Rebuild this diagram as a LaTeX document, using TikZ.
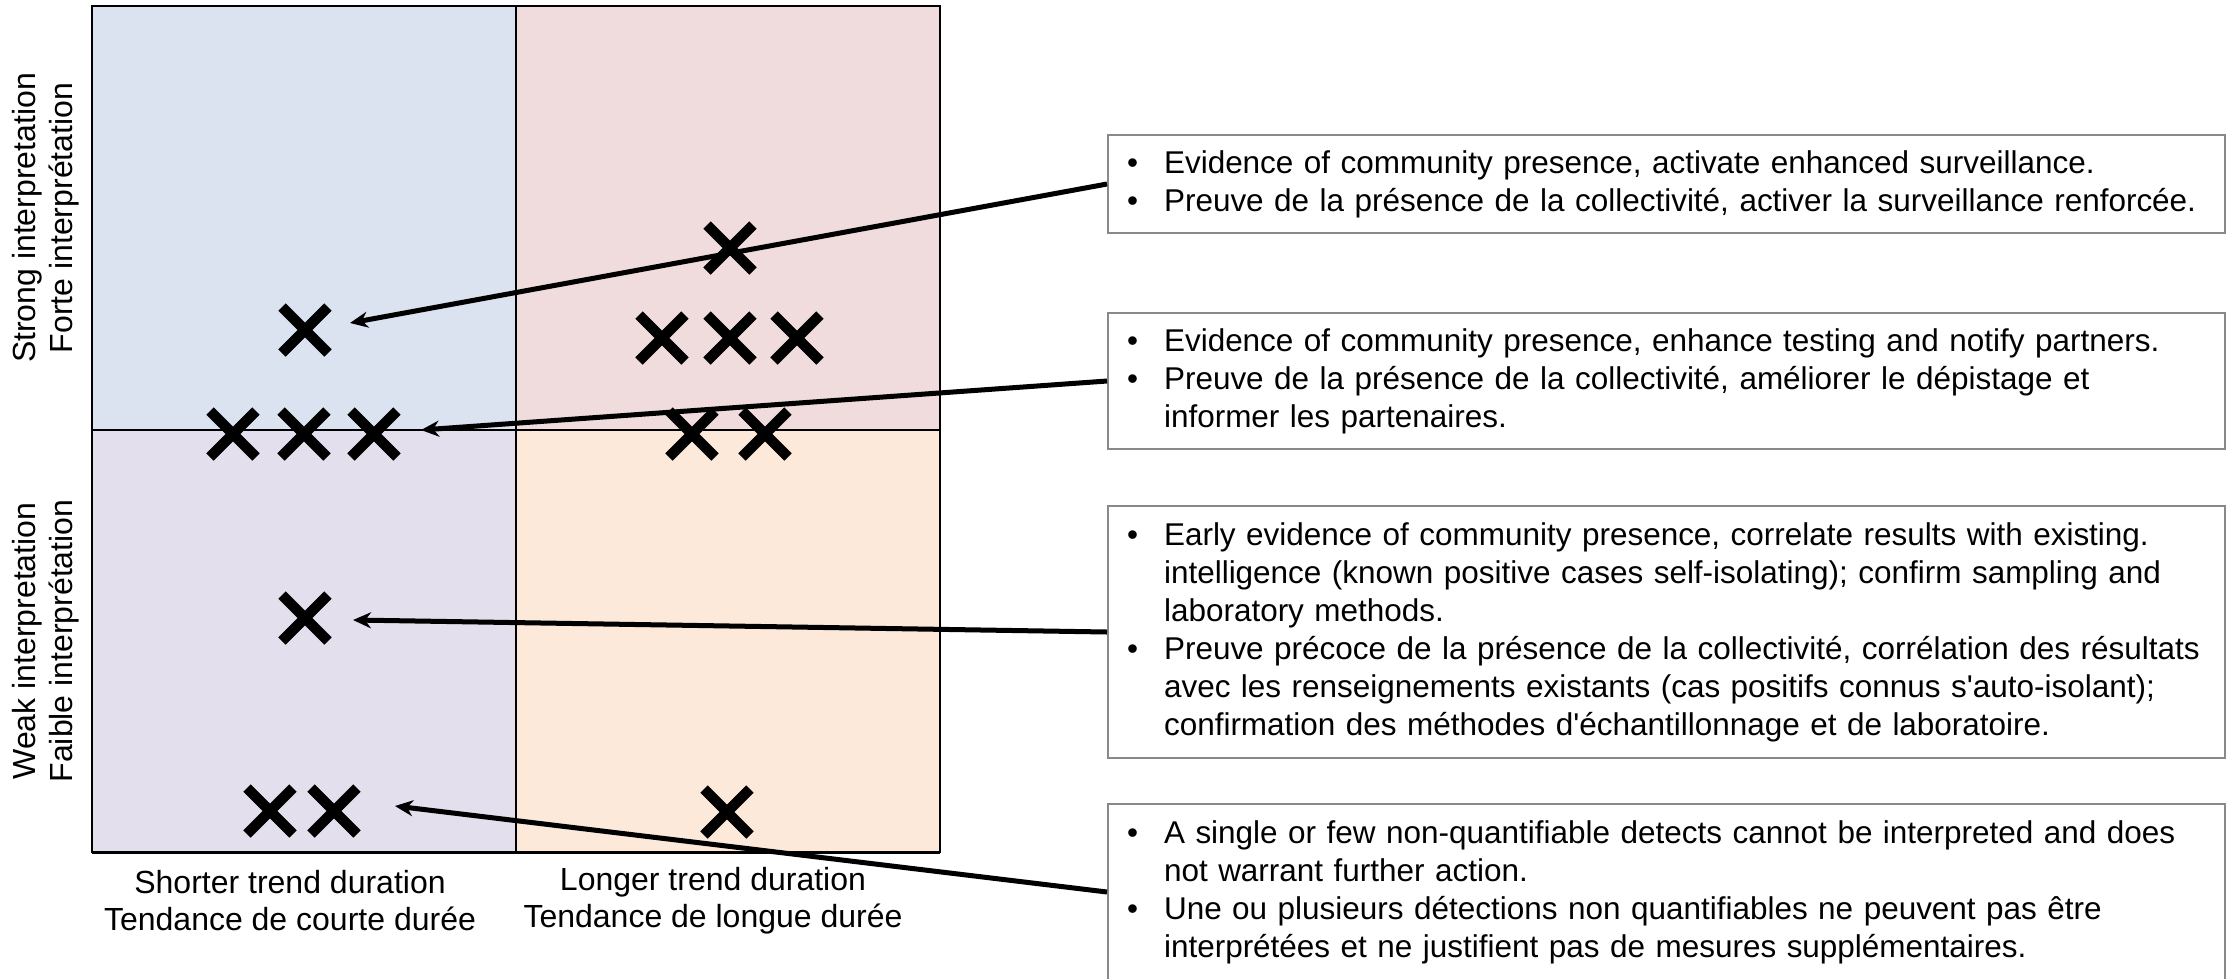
\documentclass[tikz,border=0pt]{standalone}
\usepackage{fontspec}
\setmainfont{Liberation Sans}
\usepackage{tikz}
\usetikzlibrary{arrows.meta, positioning}
\definecolor{quadblue}{RGB}{219, 227, 241}
\definecolor{quadpink}{RGB}{240, 220, 220}
\definecolor{quadlilac}{RGB}{228, 223, 236}
\definecolor{quadpeach}{RGB}{252, 233, 218}
\definecolor{boxgrey}{RGB}{137, 137, 137}
\newcommand{\bulitem}{\hspace*{0.19cm}\makebox[0.37cm][l]{\textbullet}}
\newcommand{\contline}{\hspace*{0.56cm}}

\begin{document}
\begin{tikzpicture}[
    x=0.01cm, y=-0.01cm,
    xmark/.style={line width=0.105cm},
    infobox/.style={draw=boxgrey, line width=0.02cm, anchor=west, text width=11.16cm,
        inner xsep=0pt, inner ysep=0pt, align=left, font=\fontsize{8.95}{10.8}\selectfont},
    pointer/.style={line width=0.05cm, -{Stealth[length=0.18cm, width=0.16cm]}},
    axislabel/.style={align=center, font=\fontsize{9.1}{10.5}\selectfont},
]
    \useasboundingbox (0,0) rectangle (2229,978);

    % Quadrants
    \fill[quadblue] (92,6) rectangle (516,430);
    \fill[quadpink] (516,6) rectangle (940,430);
    \fill[quadlilac] (92,430) rectangle (516,852);
    \fill[quadpeach] (516,430) rectangle (940,852);
    \draw[line width=0.02cm] (92,6) rectangle (940,852);
    \draw[line width=0.02cm] (516,6) -- (516,852);
    \draw[line width=0.02cm] (92,430) -- (940,430);
    \draw[line width=0.03cm] (92,852) -- (940,852);

    % Axis labels
    \node[axislabel, rotate=90] (strong) at (46,218) {Strong interpretation\\Forte interprétation};
    \node[axislabel, rotate=90] (weak) at (46,641) {Weak interpretation\\Faible interprétation};
    \node[axislabel] (shorter) at (290,901) {Shorter trend duration\\Tendance de courte durée};
    \node[axislabel] (longer) at (713,901) {Longer trend duration\\Tendance de longue durée};

    % Detections
    \foreach \cx/\cy in {305/330, 730/248, 662/338, 730/338, 797/338,
                         233/434, 304/434, 374/434, 692/434, 765/434,
                         305/618, 270/811, 334/811, 727/812} {
        \draw[xmark] (\cx-23,\cy-23) -- (\cx+23,\cy+23) (\cx-23,\cy+23) -- (\cx+23,\cy-23);
    }

    % Interpretation boxes
    \node[infobox, minimum height=0.97cm] (evidence) at (1107,184) {%
        \bulitem Evidence of community presence, activate enhanced surveillance.\\
        \bulitem Preuve de la présence de la collectivité, activer la surveillance renforcée.};
    \node[infobox, minimum height=1.36cm] (testing) at (1107,381) {%
        \bulitem Evidence of community presence, enhance testing and notify partners.\\
        \bulitem Preuve de la présence de la collectivité, améliorer le dépistage et\\
        \contline informer les partenaires.};
    \node[infobox, minimum height=2.52cm] (early) at (1107,632) {%
        \bulitem Early evidence of community presence, correlate results with existing.\\
        \contline intelligence (known positive cases self-isolating); confirm sampling and\\
        \contline laboratory methods.\\
        \bulitem Preuve précoce de la présence de la collectivité, corrélation des résultats\\
        \contline avec les renseignements existants (cas positifs connus s\textquotesingle auto-isolant);\\
        \contline confirmation des méthodes d\textquotesingle échantillonnage et de laboratoire.};
    \node[infobox, minimum height=1.76cm] (single) at (1107,892) {%
        \bulitem A single or few non-quantifiable detects cannot be interpreted and does\\
        \contline not warrant further action.\\
        \bulitem Une ou plusieurs détections non quantifiables ne peuvent pas être\\
        \contline interprétées et ne justifient pas de mesures supplémentaires.};

    % Arrows
    \coordinate (tipA) at (350,323);
    \coordinate (tipB) at (421,430);
    \coordinate (tipC) at (353,620);
    \coordinate (tipD) at (395,806);
    \draw[pointer] (evidence.west) -- (tipA);
    \draw[pointer] (testing.west) -- (tipB);
    \draw[pointer] (early.west) -- (tipC);
    \draw[pointer] (single.west) -- (tipD);
\end{tikzpicture}
\end{document}
